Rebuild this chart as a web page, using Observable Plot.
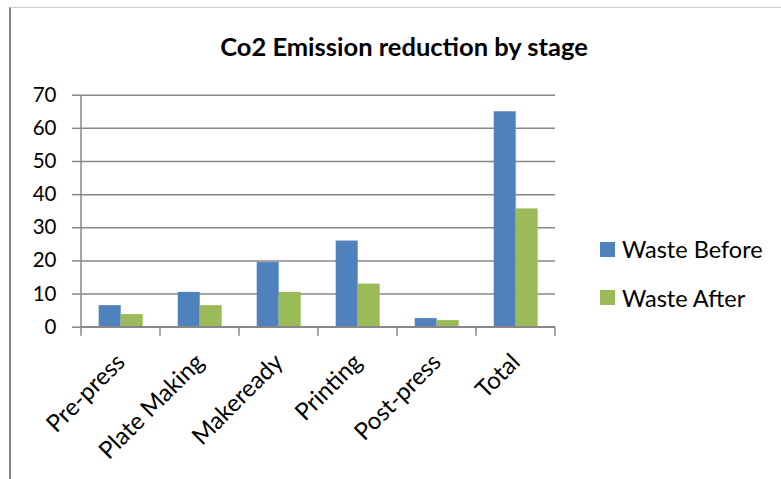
<!DOCTYPE html>
<html>
<head>
<meta charset="utf-8">
<script src="https://cdn.jsdelivr.net/npm/d3@7"></script>
<script src="https://cdn.jsdelivr.net/npm/@observablehq/plot@0.6"></script>
<style>
  body { margin: 0; background: #fff; }
  #chart { position: relative; width: 781px; height: 479px; overflow: hidden; font-family: Lato, "Open Sans", sans-serif; color: #000; }
  #frame { position: absolute; left: 9px; top: 7px; right: -20px; bottom: -20px; border-left: 2.5px solid #848484; border-top: 1px solid #cfcfcf; }
  #title { position: absolute; left: 0; top: 31px; width: 808px; text-align: center; font-weight: bold; font-size: 25.5px; line-height: 30px; }
  #plot { position: absolute; left: 0; top: 0; }
  #legend { position: absolute; left: 600px; top: 225px; font-size: 23.5px; }
  .item { display: flex; align-items: center; height: 48.5px; }
  .swatch { width: 15px; height: 15px; margin-right: 7px; }
</style>
</head>
<body>
<div id="chart">
  <div id="frame"></div>
  <div id="plot"></div>
  <div id="title">Co2 Emission reduction by stage</div>
  <div id="legend"></div>
</div>
<script>
// Production stages and the CO2 waste measured before and after the changes
const stages = ["Pre-press", "Plate Making", "Makeready", "Printing", "Post-press", "Total"];
const series = ["Waste Before", "Waste After"];
const wasteBefore = [6.5, 10.5, 19.5, 26, 2.6, 65];
const wasteAfter = [3.8, 6.5, 10.5, 13, 2, 35.7];
const yTicks = [0, 10, 20, 30, 40, 50, 60, 70];
const colors = ["#4F81BD", "#9BBB59"];
const lineColor = "#878787";

const rows = stages.flatMap((stage, i) => [
  {stage, series: series[0], value: wasteBefore[i]},
  {stage, series: series[1], value: wasteAfter[i]}
]);

const chart = Plot.plot({
  width: 781,
  height: 479,
  marginTop: 94.7,
  marginBottom: 152.3,
  marginLeft: 79.3,
  marginRight: 224.3,
  style: {fontFamily: "Lato, 'Open Sans', sans-serif", fontSize: "20px", color: "#000", background: "transparent", overflow: "visible"},
  fx: {domain: stages, padding: 0, label: null},
  x: {domain: series, paddingInner: 0, paddingOuter: 0.75, axis: null},
  y: {domain: [0, 70], label: null},
  color: {domain: series, range: colors},
  marks: [
    Plot.gridY(yTicks, {stroke: lineColor, strokeOpacity: 1, strokeWidth: 1.5}),
    Plot.barY(rows, {fx: "stage", x: "series", y: "value", fill: "series"}),
    Plot.axisY(yTicks, {tickSize: 9, tickPadding: 16, stroke: lineColor, strokeWidth: 1.5, strokeOpacity: 1, fontSize: 20.5, label: null}),
    Plot.axisFx({anchor: "bottom", tickSize: 0, tickPadding: 31, tickRotate: -45, fontSize: 24, label: null})
  ]
});

// Category axis: baseline, left axis line and tick marks between stages
const fx = chart.scale("fx");
const y = chart.scale("y");
const y0 = y.apply(0);
const yTop = y.apply(70);
const bounds = stages.map(s => fx.apply(s));
bounds.push(bounds[bounds.length - 1] + fx.bandwidth);

const axes = d3.select(chart).append("g")
  .attr("stroke", lineColor)
  .attr("stroke-width", 1.5);
axes.append("line")
  .attr("x1", bounds[0]).attr("x2", bounds[bounds.length - 1])
  .attr("y1", y0).attr("y2", y0);
axes.append("line")
  .attr("x1", bounds[0]).attr("x2", bounds[0])
  .attr("y1", yTop).attr("y2", y0);
axes.selectAll(".tick").data(bounds).join("line")
  .attr("x1", d => d).attr("x2", d => d)
  .attr("y1", y0).attr("y2", y0 + 9);

document.getElementById("plot").append(chart);

// Legend
const legend = d3.select("#legend");
const items = legend.selectAll(".item").data(series).join("div").attr("class", "item");
items.append("div").attr("class", "swatch").style("background", (d, i) => colors[i]);
items.append("span").text(d => d);
</script>
</body>
</html>
